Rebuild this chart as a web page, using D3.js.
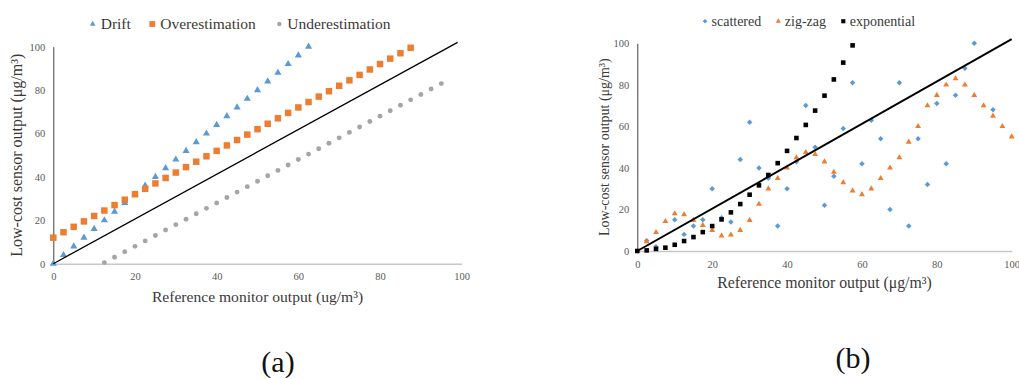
<!DOCTYPE html>
<html>
<head>
<meta charset="utf-8">
<script src="https://cdn.jsdelivr.net/npm/d3@7"></script>
<style>
  html, body { margin: 0; padding: 0; background: #fff; }
  svg { display: block; font-family: "Liberation Serif", "Times New Roman", serif; }
</style>
</head>
<body>
<svg id="fig" width="1019" height="379"></svg>
<script>
// ---- Panel (a): sensor error types ----
const ticksA = [0, 20, 40, 60, 80, 100];
const driftX = [0, 2.5, 5, 7.5, 10, 12.5, 15, 17.5, 20, 22.5, 25, 27.5, 30, 32.5, 35, 37.5, 40, 42.5, 45, 47.5, 50, 52.5, 55, 57.5, 60, 62.5];
const driftY = [0, 4, 8, 12, 16, 20, 24, 28, 32, 36, 40, 44, 48, 52, 56, 60, 64, 68, 72, 76, 80, 84, 88, 92, 96, 100];
const overX = [0, 2.5, 5, 7.5, 10, 12.5, 15, 17.5, 20, 22.5, 25, 27.5, 30, 32.5, 35, 37.5, 40, 42.5, 45, 47.5, 50, 52.5, 55, 57.5, 60, 62.5, 65, 67.5, 70, 72.5, 75, 77.5, 80, 82.5, 85, 87.5];
const overY = [12, 14.5, 17, 19.5, 22, 24.5, 27, 29.5, 32, 34.5, 37, 39.5, 42, 44.5, 47, 49.5, 52, 54.5, 57, 59.5, 62, 64.5, 67, 69.5, 72, 74.5, 77, 79.5, 82, 84.5, 87, 89.5, 92, 94.5, 97, 99.5];
const underX = [12.5, 15, 17.5, 20, 22.5, 25, 27.5, 30, 32.5, 35, 37.5, 40, 42.5, 45, 47.5, 50, 52.5, 55, 57.5, 60, 62.5, 65, 67.5, 70, 72.5, 75, 77.5, 80, 82.5, 85, 87.5, 90, 92.5, 95];
const underY = [0.5, 3, 5.5, 8, 10.5, 13, 15.5, 18, 20.5, 23, 25.5, 28, 30.5, 33, 35.5, 38, 40.5, 43, 45.5, 48, 50.5, 53, 55.5, 58, 60.5, 63, 65.5, 68, 70.5, 73, 75.5, 78, 80.5, 83];
const refLineA = [[0, 0], [99, 102]];
const namesA = ["Drift", "Overestimation", "Underestimation"];

// ---- Panel (b): response patterns ----
const ticksB = [0, 20, 40, 60, 80, 100];
const scatX = [2.5, 5, 10, 12.5, 15, 17.5, 20, 22.5, 25, 27.5, 30, 32.5, 35, 37.5, 40, 42.5, 45, 47.5, 50, 52.5, 55, 57.5, 60, 62.5, 65, 67.5, 70, 72.5, 75, 77.5, 80, 82.5, 85, 87.5, 90, 95];
const scatY = [5, 2, 15, 8, 12, 15, 30, 16, 14, 44, 62, 40, 35, 12, 30, 43, 70, 50, 22, 36, 59, 81, 42, 63, 54, 20, 81, 12, 54, 32, 71, 42, 75, 88, 100, 68];
const zigX = [2.5, 5, 7.5, 10, 12.5, 15, 17.5, 20, 22.5, 25, 27.5, 30, 32.5, 35, 37.5, 40, 42.5, 45, 47.5, 50, 52.5, 55, 57.5, 60, 62.5, 65, 67.5, 70, 72.5, 75, 77.5, 80, 82.5, 85, 87.5, 90, 92.5, 95, 97.5, 100];
const zigY = [4.5, 9, 14.3, 18, 17.5, 14.8, 12.4, 10, 7.3, 7.8, 10, 14.8, 22.6, 30, 35, 40, 45, 47.5, 46.5, 43, 38, 33, 29, 27.2, 30, 35, 40, 45, 52.5, 60, 70, 75, 80, 83, 80, 75, 70, 65, 60, 55];
const expX = [0, 2.5, 5, 7.5, 10, 12.5, 15, 17.5, 20, 22.5, 25, 27.5, 30, 32.5, 35, 37.5, 40, 42.5, 45, 47.5, 50, 52.5, 55, 57.5];
const expY = [0, 0.3, 1, 1.6, 3, 4.8, 6.7, 9.1, 12, 15.2, 18.6, 22.6, 27.1, 31.6, 36.6, 42.3, 48.2, 54.4, 60.7, 67.6, 74.8, 82.6, 90.7, 99];
const refLineB = [[0, 0], [100, 102]];
const namesB = ["scattered", "zig-zag", "exponential"];

const BLUE = "#5B9BD5", ORANGE = "#ED7D31", GRAY = "#A5A5A5", BLACK = "#000000";
const TEXT = "#3a3a3a", TICK = "#595959";

const svg = d3.select("#fig");
const zip = (xs, ys) => xs.map((x, i) => ({ x, y: ys[i] }));

function drawPanel(cfg) {
  const x = d3.scaleLinear().domain([0, 100]).range(cfg.xRange);
  const y = d3.scaleLinear().domain([0, 100]).range(cfg.yRange);
  const g = svg.append("g");

  // x axis (light grey baseline) and y axis (dark line)
  const xa = g.append("g").attr("transform", `translate(0,${cfg.yRange[0]})`)
    .call(d3.axisBottom(x).tickValues(cfg.ticks).tickSize(0).tickSizeOuter(0).tickPadding(cfg.xPad));
  xa.select(".domain").attr("stroke", "#C8C8C8").attr("stroke-width", 1.5);
  const ya = g.append("g").attr("transform", `translate(${cfg.xRange[0]},0)`)
    .call(d3.axisLeft(y).tickValues(cfg.ticks).tickSize(0).tickSizeOuter(0).tickPadding(8));
  ya.select(".domain").attr("stroke", "#404040").attr("stroke-width", 1);
  g.selectAll(".tick text")
    .attr("fill", TICK)
    .style("font-family", "'Liberation Serif', serif")
    .style("font-size", "10.5px");

  // data markers
  cfg.series.forEach(s => {
    g.append("g").selectAll("path")
      .data(zip(s.xs, s.ys))
      .join("path")
      .attr("d", d3.symbol().type(s.type).size(s.size)())
      .attr("transform", d => `translate(${x(d.x)},${y(d.y)})${s.rot ? " rotate(45)" : ""}`)
      .attr("fill", s.color);
  });

  // 1:1 reference line
  g.append("path")
    .datum(cfg.refLine)
    .attr("d", d3.line().x(d => x(d[0])).y(d => y(d[1])))
    .attr("stroke", BLACK)
    .attr("stroke-width", cfg.lineWidth)
    .attr("fill", "none");

  // legend
  const leg = g.append("g");
  cfg.series.forEach((s, i) => {
    const lx = cfg.legendX[i];
    leg.append("path")
      .attr("d", d3.symbol().type(s.type).size(s.legendSize)())
      .attr("transform", `translate(${lx},${cfg.legendY - cfg.legendFont * 0.34})${s.rot ? " rotate(45)" : ""}`)
      .attr("fill", s.color);
    leg.append("text")
      .attr("x", lx + cfg.legendGap)
      .attr("y", cfg.legendY)
      .attr("fill", TEXT)
      .style("font-size", cfg.legendFont + "px")
      .text(cfg.names[i]);
  });

  // axis titles
  g.append("text")
    .attr("x", (cfg.xRange[0] + cfg.xRange[1]) / 2)
    .attr("y", cfg.xTitleY)
    .attr("text-anchor", "middle")
    .attr("fill", TEXT)
    .style("font-size", cfg.xTitleFont + "px")
    .text(cfg.xTitle);
  g.append("text")
    .attr("transform", `translate(${cfg.yTitleX},${(cfg.yRange[0] + cfg.yRange[1]) / 2}) rotate(-90)`)
    .attr("text-anchor", "middle")
    .attr("fill", TEXT)
    .style("font-size", cfg.yTitleFont + "px")
    .text("Low-cost sensor output (\u03bcg/m\u00b3)");

  // panel caption
  svg.append("text")
    .attr("x", cfg.capX)
    .attr("y", cfg.capY)
    .attr("text-anchor", "middle")
    .attr("fill", "#111")
    .style("font-size", "30px")
    .text(cfg.caption);
}

drawPanel({
  xRange: [53.3, 461.7], yRange: [263.7, 46.7], ticks: ticksA, xPad: 9,
  series: [
    { xs: driftX, ys: driftY, type: d3.symbolTriangle, size: 22, legendSize: 14, color: BLUE },
    { xs: overX, ys: overY, type: d3.symbolSquare, size: 42, legendSize: 34, color: ORANGE },
    { xs: underX, ys: underY, type: d3.symbolCircle, size: 19, legendSize: 15, color: GRAY }
  ],
  names: namesA, refLine: refLineA, lineWidth: 1.3,
  legendX: [92.7, 152.3, 279.3], legendY: 29.3, legendGap: 8, legendFont: 15.5,
  xTitle: "Reference monitor output (ug/m\u00b3)", xTitleY: 301.5, xTitleFont: 15.6,
  yTitleX: 21.5, yTitleFont: 16,
  caption: "(a)", capX: 278, capY: 372
});

drawPanel({
  xRange: [637.3, 1011.7], yRange: [251, 43.3], ticks: ticksB, xPad: 10,
  series: [
    { xs: scatX, ys: scatY, type: d3.symbolSquare, size: 15, legendSize: 11, color: BLUE, rot: true },
    { xs: zigX, ys: zigY, type: d3.symbolTriangle, size: 15, legendSize: 11, color: ORANGE },
    { xs: expX, ys: expY, type: d3.symbolSquare, size: 21, legendSize: 17, color: BLACK }
  ],
  names: namesB, refLine: refLineB, lineWidth: 2,
  legendX: [705, 778.3, 843.3], legendY: 26, legendGap: 6.5, legendFont: 14,
  xTitle: "Reference monitor output (\u03bcg/m\u00b3)", xTitleY: 288, xTitleFont: 15.8,
  yTitleX: 609, yTitleFont: 14,
  caption: "(b)", capX: 853, capY: 368
});
</script>
</body>
</html>
